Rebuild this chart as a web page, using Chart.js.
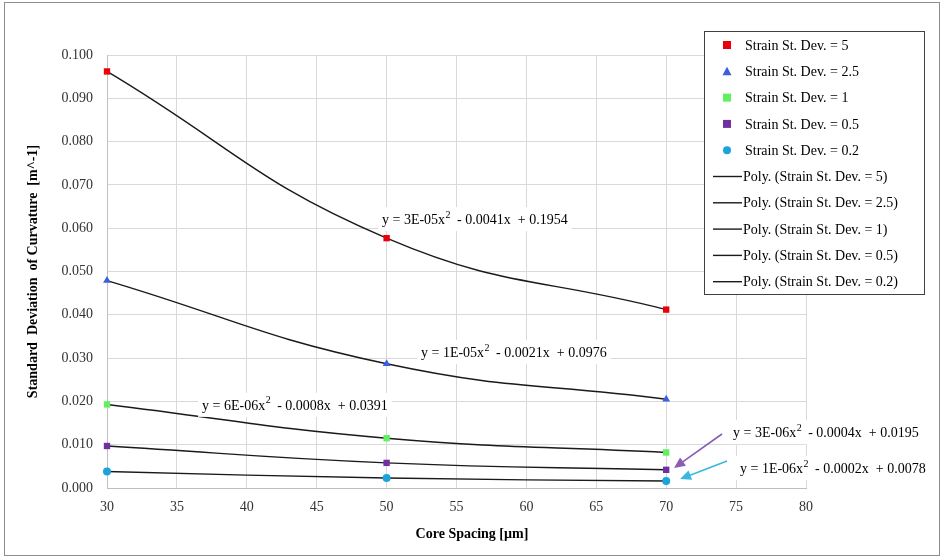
<!DOCTYPE html>
<html>
<head>
<meta charset="utf-8">
<script src="https://cdn.jsdelivr.net/npm/chart.js@4.4.0/dist/chart.umd.min.js"></script>
<style>
  body { margin: 0; background: #fff; }
  #wrap { width: 942px; height: 558px; }
</style>
</head>
<body>
<div id="wrap"><canvas id="myChart" width="942" height="558"></canvas></div>
<script>
// core spacing values (x)
var spacing = [30, 50, 70];
var seriesNames = ['Strain St. Dev. = 5', 'Strain St. Dev. = 2.5', 'Strain St. Dev. = 1', 'Strain St. Dev. = 0.5', 'Strain St. Dev. = 0.2'];
// std dev of curvature per series
var sd5 = [0.0962, 0.0577, 0.0412];
var sd25 = [0.0479, 0.0287, 0.0205];
var sd1 = [0.0193, 0.0115, 0.0082];
var sd05 = [0.0097, 0.0058, 0.0042];
var sd02 = [0.0038, 0.0023, 0.0016];
var xTicks = [30, 35, 40, 45, 50, 55, 60, 65, 70, 75, 80];
var yTicks = [0, 0.01, 0.02, 0.03, 0.04, 0.05, 0.06, 0.07, 0.08, 0.09, 0.1];

var equations = [
    ['y = 3E-05x', '  - 0.0041x  + 0.1954'],
    ['y = 1E-05x', '  - 0.0021x  + 0.0976'],
    ['y = 6E-06x', '  - 0.0008x  + 0.0391'],
    ['y = 3E-06x', '  - 0.0004x  + 0.0195'],
    ['y = 1E-06x', '  - 0.0002x  + 0.0078']
];

// where the equation labels / arrows sit, in data units
var eqPos = [[49.67, 0.0621], [52.46, 0.0314], [36.8, 0.0192], [74.78, 0.0129], [75.28, 0.0046]];
var arrows = [
    { from: [73.99, 0.01247], to: [70.56, 0.00462], color: '#8a5cb4' },
    { from: [74.35, 0.00624], to: [70.99, 0.00208], color: '#3bb6dc' }
];

var allSeries = [sd5, sd25, sd1, sd05, sd02];
var markerColors = ['#e8000b', '#3a5ee0', '#5ef05e', '#7030a0', '#1ca3dc'];
var markerStyles = ['rect', 'triangle', 'rect', 'rect', 'circle'];

function toPoints(vals) {
    return spacing.map(function (x, i) { return { x: x, y: vals[i] }; });
}

var datasets = [];
allSeries.forEach(function (vals, i) {
    datasets.push({
        label: seriesNames[i],
        data: toPoints(vals),
        showLine: false,
        clip: false,
        pointStyle: markerStyles[i],
        pointRadius: markerStyles[i] == 'circle' ? 4 : 4.5,
        pointHoverRadius: 4.5,
        backgroundColor: markerColors[i],
        borderColor: markerColors[i],
        borderWidth: 0
    });
});
allSeries.forEach(function (vals, i) {
    datasets.push({
        label: 'Poly. (' + seriesNames[i] + ')',
        data: toPoints(vals),
        showLine: true,
        clip: false,
        pointRadius: 0,
        borderColor: '#1a1a1a',
        borderWidth: 1.4,
        tension: 0.45,
        fill: false
    });
});

var serif = "'Liberation Serif', 'Times New Roman', serif";

var extras = {
    id: 'extras',
    afterDatasetsDraw: function (chart) {
        var ctx = chart.ctx;
        var xs = chart.scales.x, ys = chart.scales.y;
        ctx.save();

        // equation labels
        equations.forEach(function (eq, i) {
            var px = xs.getPixelForValue(eqPos[i][0]);
            var py = ys.getPixelForValue(eqPos[i][1]);
            ctx.font = '14px ' + serif;
            var w1 = ctx.measureText(eq[0]).width;
            var w3 = ctx.measureText(eq[1]).width;
            ctx.font = '10px ' + serif;
            var w2 = ctx.measureText('2').width;
            ctx.fillStyle = '#fff';
            ctx.fillRect(px - 4, py - 12, w1 + w2 + w3 + 8, 24);
            ctx.fillStyle = '#000';
            ctx.textBaseline = 'middle';
            ctx.textAlign = 'left';
            ctx.font = '14px ' + serif;
            ctx.fillText(eq[0], px, py + 1);
            ctx.font = '10px ' + serif;
            ctx.fillText('2', px + w1 + 0.5, py - 4);
            ctx.font = '14px ' + serif;
            ctx.fillText(eq[1], px + w1 + w2, py + 1);
        });

        // arrows
        arrows.forEach(function (a) {
            var x1 = xs.getPixelForValue(a.from[0]), y1 = ys.getPixelForValue(a.from[1]);
            var x2 = xs.getPixelForValue(a.to[0]), y2 = ys.getPixelForValue(a.to[1]);
            var ang = Math.atan2(y2 - y1, x2 - x1);
            ctx.strokeStyle = a.color;
            ctx.fillStyle = a.color;
            ctx.lineWidth = 1.6;
            ctx.beginPath();
            ctx.moveTo(x1, y1);
            ctx.lineTo(x2 - 8 * Math.cos(ang), y2 - 8 * Math.sin(ang));
            ctx.stroke();
            ctx.beginPath();
            ctx.moveTo(x2, y2);
            ctx.lineTo(x2 - 11 * Math.cos(ang) + 5 * Math.sin(ang), y2 - 11 * Math.sin(ang) - 5 * Math.cos(ang));
            ctx.lineTo(x2 - 11 * Math.cos(ang) - 5 * Math.sin(ang), y2 - 11 * Math.sin(ang) + 5 * Math.cos(ang));
            ctx.closePath();
            ctx.fill();
        });

        // legend box
        var lx = 704.5, ly = 31.5, lw = 220, lh = 263;
        ctx.fillStyle = '#fff';
        ctx.fillRect(lx, ly, lw, lh);
        ctx.strokeStyle = '#404040';
        ctx.lineWidth = 1;
        ctx.strokeRect(lx, ly, lw, lh);
        ctx.font = '14px ' + serif;
        ctx.textBaseline = 'middle';
        ctx.textAlign = 'left';
        chart.data.datasets.forEach(function (ds, i) {
            var ry = 45 + i * 26.3;
            if (i < 5) {
                ctx.fillStyle = markerColors[i];
                if (markerStyles[i] == 'rect') {
                    ctx.fillRect(723, ry - 4, 8, 8);
                } else if (markerStyles[i] == 'triangle') {
                    ctx.beginPath();
                    ctx.moveTo(727, ry - 4.5);
                    ctx.lineTo(731.5, ry + 4);
                    ctx.lineTo(722.5, ry + 4);
                    ctx.closePath();
                    ctx.fill();
                } else {
                    ctx.beginPath();
                    ctx.arc(727, ry, 4, 0, Math.PI * 2);
                    ctx.fill();
                }
                ctx.fillStyle = '#000';
                ctx.fillText(ds.label, 745, ry + 1);
            } else {
                ctx.strokeStyle = '#1a1a1a';
                ctx.lineWidth = 1.4;
                ctx.beginPath();
                ctx.moveTo(713, ry);
                ctx.lineTo(742, ry);
                ctx.stroke();
                ctx.fillStyle = '#000';
                ctx.fillText(ds.label, 743, ry + 1);
            }
        });

        // axis titles
        ctx.fillStyle = '#000';
        ctx.font = 'bold 14px ' + serif;
        ctx.textAlign = 'center';
        ctx.fillText('Core Spacing [\u00b5m]', 472, 534);
        ctx.translate(33, (chart.chartArea.top + chart.chartArea.bottom) / 2);
        ctx.rotate(-Math.PI / 2);
        ctx.fillText('Standard  Deviation  of Curvature  [m^-1]', 0, 0);
        ctx.restore();
    },
    afterDraw: function (chart) {
        var ctx = chart.ctx;
        ctx.save();
        ctx.strokeStyle = '#8c8c8c';
        ctx.lineWidth = 1;
        ctx.strokeRect(4.5, 2.5, 935, 553);
        ctx.restore();
    }
};

var ctx = document.getElementById('myChart').getContext('2d');
var myChart = new Chart(ctx, {
    type: 'scatter',
    data: { datasets: datasets },
    options: {
        responsive: false,
        animation: false,
        layout: { padding: { left: 0, top: 55, right: 136, bottom: 0 } },
        plugins: {
            legend: { display: false },
            tooltip: { enabled: false }
        },
        scales: {
            x: {
                type: 'linear',
                min: 30,
                max: 80,
                afterBuildTicks: function (s) { s.ticks = xTicks.map(function (v) { return { value: v }; }); },
                afterFit: function (s) { s.height = 70; },
                grid: { color: '#d9d9d9', drawTicks: false },
                border: { color: '#bfbfbf' },
                ticks: { padding: 11, color: '#333', font: { family: serif, size: 14 } }
            },
            y: {
                type: 'linear',
                min: 0,
                max: 0.1,
                afterBuildTicks: function (s) { s.ticks = yTicks.map(function (v) { return { value: v }; }); },
                afterFit: function (s) { s.width = 107; },
                grid: { color: '#d9d9d9', drawTicks: false },
                border: { color: '#bfbfbf' },
                ticks: {
                    padding: 14,
                    color: '#333',
                    font: { family: serif, size: 14 },
                    callback: function (v) { return v.toFixed(3); }
                }
            }
        }
    },
    plugins: [extras]
});
</script>
</body>
</html>
